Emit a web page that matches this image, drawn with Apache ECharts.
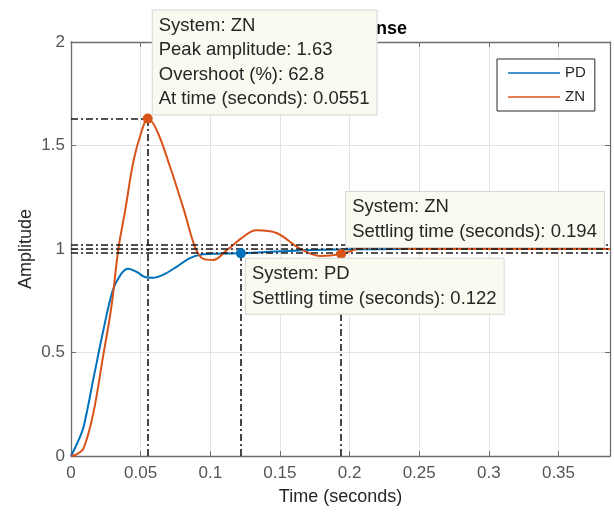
<!DOCTYPE html>
<html>
<head>
<meta charset="utf-8">
<title>Step Response</title>
<script src="https://cdn.jsdelivr.net/npm/echarts@6/dist/echarts.min.js"></script>
<style>
    html, body { margin: 0; padding: 0; background: #fff; }
    #chart { width: 614px; height: 512px; }
</style>
</head>
<body>
<div id="chart"></div>
<script>
    // PD step response
    var pdTime = [0, 0.005, 0.009, 0.016, 0.023, 0.030, 0.036, 0.041, 0.047, 0.053, 0.059, 0.066, 0.076, 0.085, 0.093, 0.105, 0.122, 0.14, 0.16, 0.19, 0.22, 0.26, 0.30, 0.34, 0.387];
    var pdAmp  = [0, 0.07, 0.14, 0.37, 0.6, 0.80, 0.88, 0.905, 0.89, 0.865, 0.861, 0.875, 0.915, 0.955, 0.972, 0.977, 0.979, 0.985, 0.992, 0.997, 0.999, 1.0, 1.0, 1.0, 1.0];

    // ZN step response
    var znTime = [0, 0.004, 0.009, 0.016, 0.023, 0.029, 0.034, 0.039, 0.045, 0.051, 0.0551, 0.0615, 0.071, 0.081, 0.089, 0.095, 0.102, 0.112, 0.122, 0.133, 0.148, 0.164, 0.179, 0.194, 0.208, 0.225, 0.25, 0.30, 0.35, 0.387];
    var znAmp  = [0, 0.008, 0.037, 0.206, 0.48, 0.721, 1.0, 1.19, 1.43, 1.575, 1.63, 1.575, 1.40, 1.19, 1.01, 0.952, 0.947, 0.995, 1.05, 1.09, 1.076, 1.003, 0.966, 0.976, 1.003, 1.008, 1.0, 1.0, 1.0, 1.0];

    // data tips
    var tipSystem = ['ZN', 'PD', 'ZN'];
    var tipTime   = [0.0551, 0.122, 0.194];
    var tipAmp    = [1.63, 0.979, 0.976];
    var tipLines  = [
        ['System: ZN', 'Peak amplitude: 1.63', 'Overshoot (%): 62.8', 'At time (seconds): 0.0551'],
        ['System: PD', 'Settling time (seconds): 0.122'],
        ['System: ZN', 'Settling time (seconds): 0.194']
    ];
    var settleBounds = [1.02, 1.0, 0.98];

    var xMax = 0.387;
    var colors = {PD: '#0072BD', ZN: '#D95319'};
    var font = 'Liberation Sans, Arial, Helvetica, sans-serif';
    var axisGray = '#6e6e6e';

    function pairs(t, a) {
        return t.map(function (v, i) { return [v, a[i]]; });
    }

    // dash-dot guide lines
    var guides = [];
    settleBounds.forEach(function (b) {
        guides.push([{coord: [0, b]}, {coord: [xMax, b]}]);
    });
    guides.push([{coord: [0, tipAmp[0]]}, {coord: [tipTime[0], tipAmp[0]]}]);
    tipTime.forEach(function (t, i) {
        guides.push([{coord: [t, 0]}, {coord: [t, tipAmp[i]]}]);
    });

    // label offsets relative to the marker box (symbol 10px)
    var tipPos = [[10, -103], [10, 10.5], [10, -57]];
    var tips = tipTime.map(function (t, i) {
        return {
            value: [t, tipAmp[i]],
            itemStyle: {color: colors[tipSystem[i]], opacity: 1},
            label: {position: tipPos[i]}
        };
    });

    var boxLine = {show: true, onZero: false, lineStyle: {color: axisGray, width: 1.3}};
    var boxTick = {show: true, inside: true, length: 5, lineStyle: {color: axisGray}};

    var chart = echarts.init(document.getElementById('chart'));
    chart.setOption({
        animation: false,
        title: {
            text: 'Step Response',
            left: 337,
            textAlign: 'center',
            top: 15,
            z: 1,
            textStyle: {fontFamily: font, fontSize: 18, fontWeight: 'bold', color: '#000'}
        },
        legend: {
            data: ['PD', 'ZN'],
            orient: 'vertical',
            left: 497,
            top: 59,
            icon: 'rect',
            itemWidth: 52,
            itemHeight: 1.5,
            itemGap: 6,
            padding: [5, 9, 5, 11],
            borderColor: '#262626',
            borderWidth: 1,
            backgroundColor: '#fff',
            textStyle: {fontFamily: font, fontSize: 15, color: '#262626', lineHeight: 18}
        },
        grid: {left: 71, right: 4, top: 42, bottom: 56},
        xAxis: [{
            type: 'value',
            min: 0, max: xMax, interval: 0.05,
            name: 'Time (seconds)',
            nameLocation: 'middle',
            nameGap: 32,
            nameMoveOverlap: false,
            nameTextStyle: {fontFamily: font, fontSize: 18, color: '#262626'},
            axisLine: boxLine,
            axisTick: boxTick,
            axisLabel: {fontFamily: font, fontSize: 17, color: '#555', margin: 9, showMaxLabel: false},
            splitLine: {lineStyle: {color: '#e3e3e3'}}
        }, {
            type: 'value', position: 'top',
            min: 0, max: xMax, interval: 0.05,
            axisLine: boxLine,
            axisTick: boxTick,
            axisLabel: {show: false},
            splitLine: {show: false}
        }],
        yAxis: [{
            type: 'value',
            min: 0, max: 2, interval: 0.5,
            name: 'Amplitude',
            nameLocation: 'middle',
            nameGap: 36,
            nameMoveOverlap: false,
            nameTextStyle: {fontFamily: font, fontSize: 18, color: '#262626'},
            axisLine: boxLine,
            axisTick: boxTick,
            axisLabel: {fontFamily: font, fontSize: 17, color: '#555', margin: 6},
            splitLine: {lineStyle: {color: '#e3e3e3'}}
        }, {
            type: 'value', position: 'right',
            min: 0, max: 2, interval: 0.5,
            axisLine: boxLine,
            axisTick: boxTick,
            axisLabel: {show: false},
            splitLine: {show: false}
        }],
        series: [
            {
                name: 'guides',
                type: 'line',
                data: [],
                z: 1,
                markLine: {
                    silent: true,
                    symbol: ['none', 'none'],
                    label: {show: false},
                    lineStyle: {color: '#1a1a1a', width: 1.6, type: [7, 3, 2, 3]},
                    data: guides
                }
            },
            {
                name: 'PD',
                type: 'line',
                data: pairs(pdTime, pdAmp),
                smooth: 0.35,
                showSymbol: false,
                z: 2,
                itemStyle: {color: colors.PD},
                lineStyle: {color: colors.PD, width: 2}
            },
            {
                name: 'ZN',
                type: 'line',
                data: pairs(znTime, znAmp),
                smooth: 0.35,
                showSymbol: false,
                z: 3,
                itemStyle: {color: colors.ZN},
                lineStyle: {color: colors.ZN, width: 2}
            },
            {
                name: 'tips',
                type: 'scatter',
                data: tips,
                symbolSize: 10,
                z: 10,
                itemStyle: {opacity: 1},
                label: {
                    show: true,
                    align: 'left',
                    verticalAlign: 'top',
                    formatter: function (p) { return tipLines[p.dataIndex].join('\n'); },
                    fontFamily: font,
                    fontSize: 18.5,
                    lineHeight: 24.5,
                    color: '#262626',
                    opacity: 1,
                    backgroundColor: '#fafaf0',
                    borderColor: '#d6d6d6',
                    borderWidth: 1,
                    padding: [3, 7, 3, 6]
                }
            }
        ]
    });
</script>
</body>
</html>
